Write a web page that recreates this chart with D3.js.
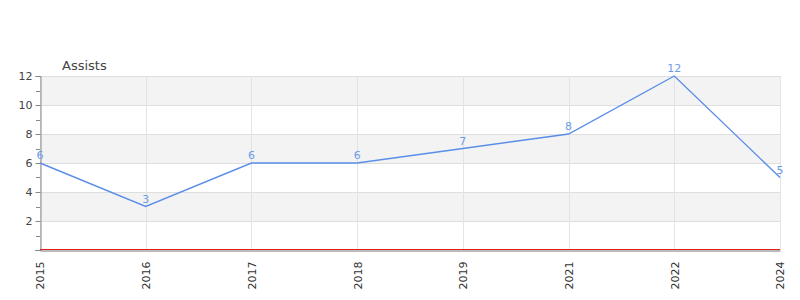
<!DOCTYPE html>
<html><head><meta charset="utf-8">
<script src="https://cdn.jsdelivr.net/npm/d3@7"></script>
<style>body{margin:0;background:#fff}svg{display:block}text{font-family:"DejaVu Sans",sans-serif}</style>
</head><body><svg id="c" width="800" height="300"></svg>
<script>
const years = ["2015","2016","2017","2018","2019","2021","2022","2024"];
const assists = [6,3,6,6,7,8,12,5];
const yTicks = [2,4,6,8,10,12];
const seriesName = "Assists";

const svg = d3.select("#c");
const x = d3.scalePoint().domain(years).range([40,780]);
const y = d3.scaleLinear().domain([0,12]).range([250,76]);

// bands
const bands = [[2,4],[6,8],[10,12]];
svg.append("g").selectAll("rect").data(bands).join("rect")
  .attr("x",40).attr("width",740)
  .attr("y",d=>y(d[1])).attr("height",d=>y(d[0])-y(d[1]))
  .attr("fill","#f3f3f3");

// horizontal grid
svg.append("g").selectAll("line").data(yTicks).join("line")
  .attr("x1",40).attr("x2",780)
  .attr("y1",d=>Math.round(y(d))+0.5).attr("y2",d=>Math.round(y(d))+0.5)
  .attr("stroke","#dedede");
// vertical grid
svg.append("g").selectAll("line").data(years).join("line")
  .attr("x1",d=>Math.round(x(d))+0.5).attr("x2",d=>Math.round(x(d))+0.5)
  .attr("y1",y(12)).attr("y2",y(0))
  .attr("stroke","#e3e3e3");

// y axis
const yAxis = d3.axisLeft(y).tickValues(yTicks).tickSize(5).tickPadding(3);
const gy = svg.append("g").attr("transform","translate(40.5,0)").call(yAxis);
gy.select(".domain").attr("stroke","#888");
gy.selectAll(".tick line").attr("stroke","#888");
gy.selectAll(".tick text").attr("fill","#444").attr("font-size",11).attr("font-family","DejaVu Sans");
// minor ticks
const minor = d3.range(0,13,1).filter(v=>v%2===1);
svg.append("g").selectAll("line").data(minor).join("line")
  .attr("x1",36).attr("x2",40)
  .attr("y1",d=>Math.round(y(d))+0.5).attr("y2",d=>Math.round(y(d))+0.5)
  .attr("stroke","#888");
// zero tick
svg.append("line").attr("x1",35).attr("x2",40).attr("y1",250.5).attr("y2",250.5).attr("stroke","#888");

// x axis
const xAxis = d3.axisBottom(x).tickSize(0).tickPadding(0);
const gx = svg.append("g").attr("transform","translate(0,250.5)").call(xAxis);
gx.select(".domain").attr("stroke","#777");
gx.selectAll(".tick text").attr("fill","#333").attr("font-size",11).attr("font-family","DejaVu Sans")
  .attr("text-anchor","end").attr("transform","rotate(-90)").attr("dy","0.35em").attr("x",-11).attr("y",0);

// red zero line
svg.append("line").attr("x1",40).attr("x2",780).attr("y1",y(0)-0.5).attr("y2",y(0)-0.5)
  .attr("stroke","#e0201a").attr("stroke-width",1.2);

// line
const line = d3.line().x((d,i)=>x(years[i])).y(d=>y(d));
svg.append("path").datum(assists).attr("d",line).attr("fill","none")
  .attr("stroke","#5b8ee8").attr("stroke-width",1.4);

// labels
svg.append("g").selectAll("text").data(assists).join("text")
  .attr("x",(d,i)=>x(years[i])).attr("y",d=>y(d)-4)
  .attr("text-anchor","middle").attr("font-size",11).attr("fill","#6e9ce8")
  .text(d=>d);

// title
svg.append("text").attr("x",62).attr("y",70).attr("font-size",13).attr("fill","#444").text(seriesName);
</script></body></html>
